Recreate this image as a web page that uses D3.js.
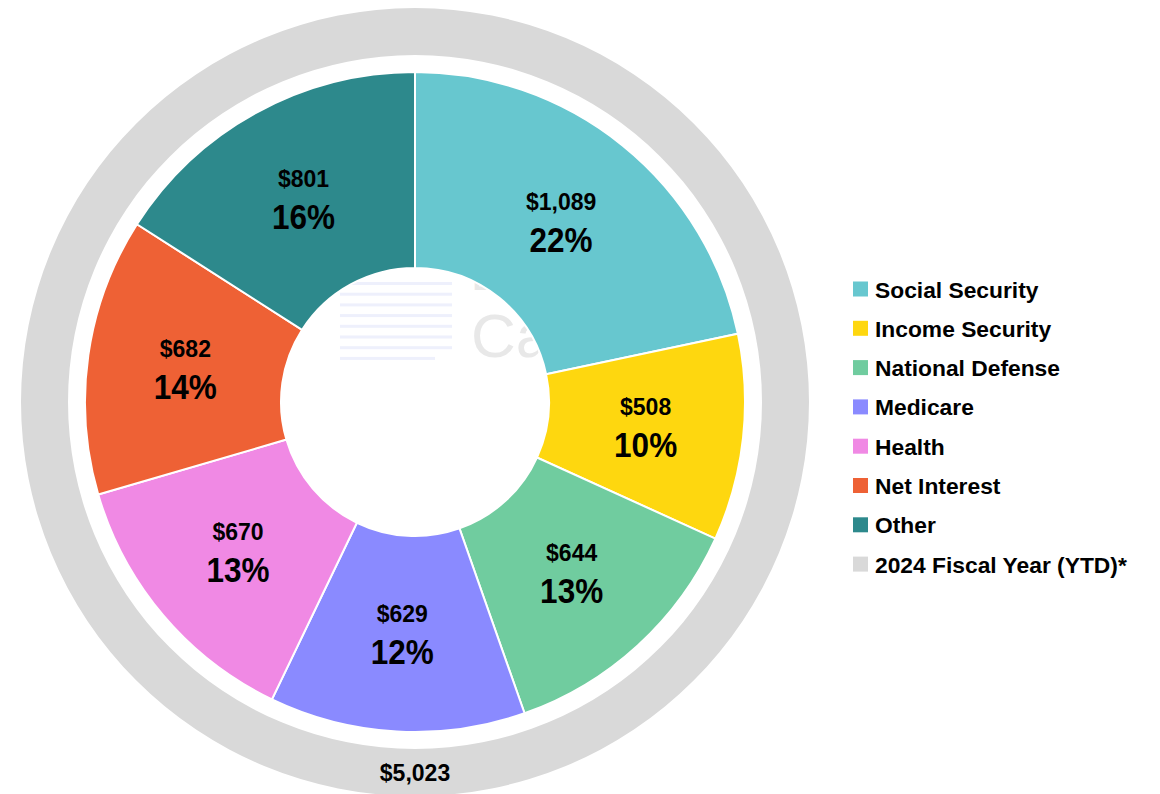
<!DOCTYPE html>
<html>
<head>
<meta charset="utf-8">
<script src="https://cdn.jsdelivr.net/npm/d3@7"></script>
<style>
  html, body { margin: 0; padding: 0; background: #fff; }
  svg { display: block; }
  text { font-family: "Liberation Sans", Arial, sans-serif; font-weight: bold; }
</style>
</head>
<body>
<svg id="chart"></svg>
<script>
// spending by category, billions of dollars
const categories = ["Social Security", "Income Security", "National Defense", "Medicare", "Health", "Net Interest", "Other"];
const values = [1089, 508, 644, 629, 670, 682, 801];
const percents = [22, 10, 13, 12, 13, 14, 16];
const colors = ["#67c7cf", "#fed70f", "#70cc9f", "#8a8aff", "#f089e4", "#ee6135", "#2d898c"];
const totalLabel = "2024 Fiscal Year (YTD)*";
const totalColor = "#d9d9d9";

const width = 1160, height = 794;
const cx = 415, cy = 402;
const rHole = 134, rPie = 330, rRingIn = 347, rRingOut = 394;

const total = d3.sum(values);
const data = categories.map((c, i) => ({ name: c, value: values[i], pct: percents[i], color: colors[i] }));

const svg = d3.select("#chart")
  .attr("width", width)
  .attr("height", height);

const g = svg.append("g").attr("transform", `translate(${cx},${cy})`);

// outer ring = total
const ringArc = d3.arc().innerRadius(rRingIn).outerRadius(rRingOut);
g.append("path")
  .attr("d", ringArc({ startAngle: 0, endAngle: 2 * Math.PI }))
  .attr("fill", totalColor);

// faint watermark, mostly hidden behind the slices
const wm = g.append("g");
d3.range(8).forEach(i => {
  wm.append("rect")
    .attr("x", -75).attr("y", -120 + i * 10.7)
    .attr("width", i === 7 ? 95 : 112).attr("height", 3)
    .attr("fill", "#eef0fc");
});
wm.append("text").attr("x", 56).attr("y", -112).attr("font-size", 46)
  .style("font-weight", "normal").attr("fill", "#e8e8e8").text("B");
wm.append("text").attr("x", 56).attr("y", -45).attr("font-size", 62)
  .style("font-weight", "normal").attr("fill", "#e8e8e8").text("Ca");

const pie = d3.pie().value(d => d.value).sort(null);
const arc = d3.arc().innerRadius(rHole).outerRadius(rPie);
const arcs = pie(data);

g.selectAll("path.slice")
  .data(arcs)
  .join("path")
  .attr("class", "slice")
  .attr("d", arc)
  .attr("fill", d => d.data.color)
  .attr("stroke", "#fff")
  .attr("stroke-width", 2);

const labels = g.selectAll("g.lbl")
  .data(arcs)
  .join("g")
  .attr("class", "lbl")
  .attr("transform", d => `translate(${arc.centroid(d)})`);

labels.append("text")
  .attr("text-anchor", "middle")
  .attr("y", -12)
  .attr("font-size", 23)
  .attr("fill", "#000")
  .text(d => "$" + d3.format(",")(d.data.value));

labels.append("text")
  .attr("text-anchor", "middle")
  .attr("transform", "translate(0,30) scale(0.9,1)")
  .attr("font-size", 35)
  .attr("fill", "#000")
  .text(d => d.data.pct + "%");

// total label on the ring
g.append("text")
  .attr("text-anchor", "middle")
  .attr("y", rRingIn + (rRingOut - rRingIn) / 2 + 8)
  .attr("font-size", 23)
  .attr("fill", "#000")
  .text("$" + d3.format(",")(total));

// legend
const legendItems = data.map(d => ({ name: d.name, color: d.color }))
  .concat([{ name: totalLabel, color: totalColor }]);

const legend = svg.append("g").attr("transform", "translate(853,289)");
const row = legend.selectAll("g")
  .data(legendItems)
  .join("g")
  .attr("transform", (d, i) => `translate(0,${i * 39.3})`);

row.append("rect")
  .attr("x", 0).attr("y", -7.5)
  .attr("width", 15).attr("height", 15)
  .attr("fill", d => d.color);

row.append("text")
  .attr("x", 22)
  .attr("y", 8.5)
  .attr("font-size", 22.8)
  .attr("fill", "#000")
  .text(d => d.name);
</script>
</body>
</html>
